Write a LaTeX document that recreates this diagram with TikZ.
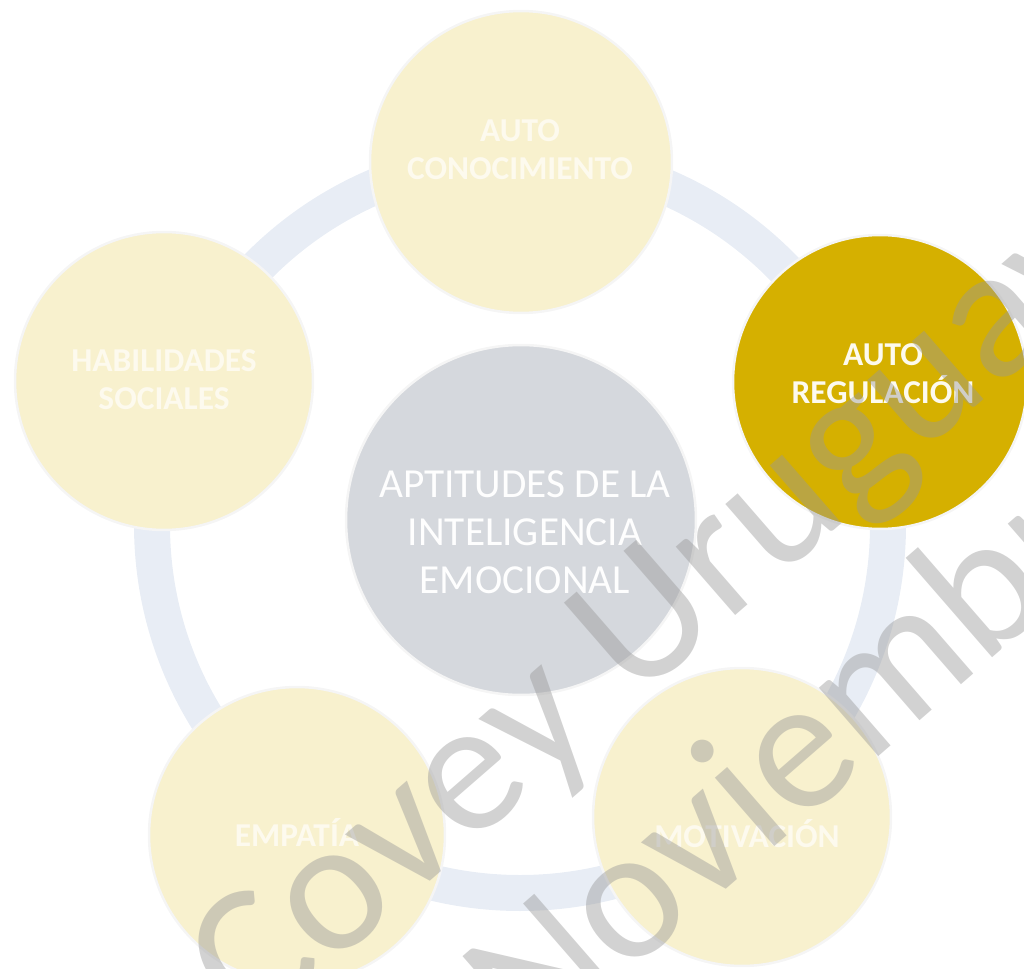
\documentclass[tikz,border=0pt]{standalone}
\usepackage{fontspec}
\setmainfont{Carlito}
\definecolor{cream}{RGB}{248,241,206}
\definecolor{gold}{RGB}{213,176,0}
\definecolor{coregrey}{RGB}{213,216,221}
\definecolor{ringblue}{RGB}{232,237,245}
\definecolor{pale}{RGB}{253,250,238}
\definecolor{markgrey}{RGB}{152,152,152}
\tikzset{
  petal/.style={circle, minimum size=#1, inner sep=0pt, draw=black!4, line width=0.05cm},
  petaltext/.style={align=center, text=pale, font=\bfseries\fontsize{19}{21.5}\selectfont},
  watermark/.style={anchor=base west, inner sep=0pt, rotate=41, text=markgrey, text opacity=0.44,
    font=\fontsize{108}{108}\selectfont}
}
\begin{document}
\begin{tikzpicture}[x=0.02cm, y=-0.02cm]
  \useasboundingbox (0,0) rectangle (1024,969);
  \clip (0,0) rectangle (1024,969);
  \draw[ringblue, line width=0.72cm] (520,525) circle (368);
  \foreach \nm/\x/\y/\d/\col/\tx/\ty/\lbl in {
      selfknow/521/162/6.04/cream/520/150/{AUTO\\CONOCIMIENTO},
      selfreg/880/382/5.88/gold/883/374/{AUTO\\REGULACIÓN},
      motiv/742/817/5.96/cream/747/834/{MOTIVACIÓN},
      empathy/297/835/5.92/cream/297/832/{EMPATÍA},
      social/164/381/5.96/cream/164/380/{HABILIDADES\\SOCIALES}}{
    \node[petal=\d cm, fill=\col] (\nm) at (\x,\y) {};
    \node[petaltext] (\nm-text) at (\tx,\ty) {\lbl};
  }
  \node[petal=7cm, fill=coregrey] (core) at (521,520) {};
  \node[align=center, text=white!97!coregrey, font=\fontsize{23.5}{27.2}\selectfont] (core-text) at (525,532)
    {APTITUDES DE LA\\INTELIGENCIA\\EMOCIONAL};
  \node[watermark] (mark1) at (252,1036) {Covey Uruguay};
  \node[watermark] (mark2) at (532,1058) {Noviembre};
\end{tikzpicture}
\end{document}
